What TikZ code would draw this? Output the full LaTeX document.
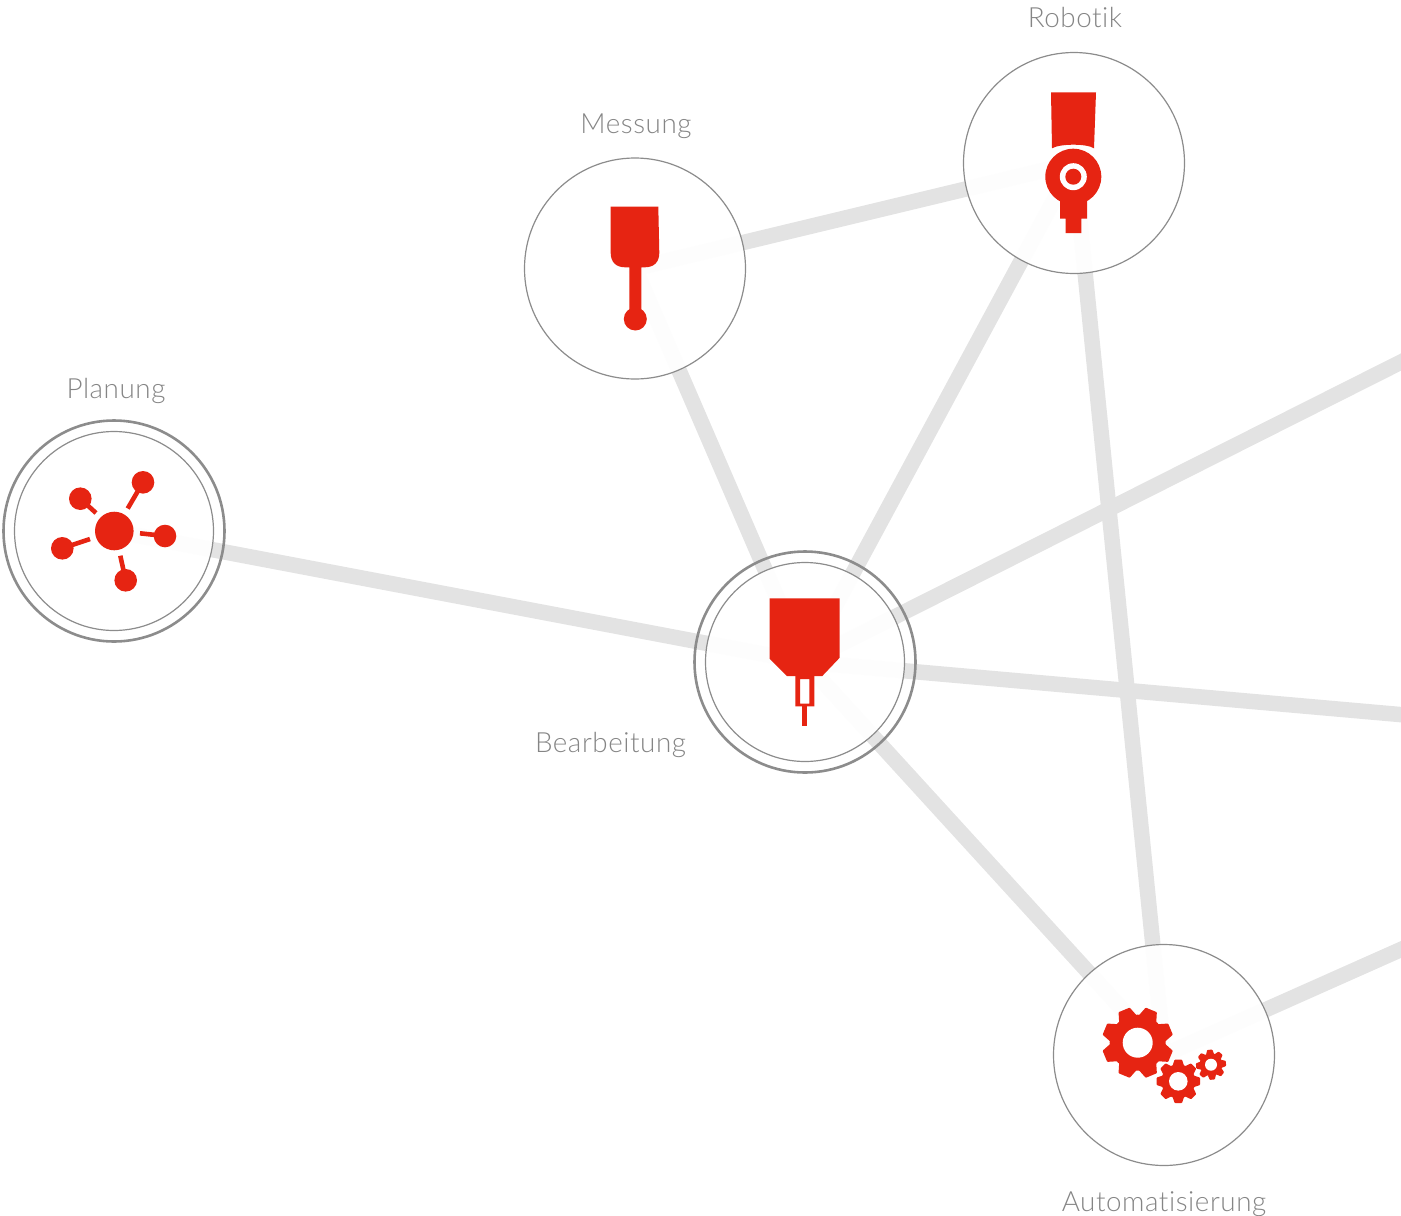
\documentclass[tikz,border=0pt]{standalone}
\usepackage{fontspec}
\setmainfont{Lato Light}[LetterSpace=2.0,Ligatures=NoCommon]
\usetikzlibrary{backgrounds}
\definecolor{iconred}{HTML}{E62412}
\definecolor{linkgrey}{HTML}{E3E3E3}
\definecolor{ringgrey}{HTML}{8C8C8C}
\definecolor{labelgrey}{HTML}{858585}
\tikzset{
  hub/.style={circle,draw=ringgrey,line width=1.2pt,fill=white,fill opacity=.95,minimum size=221pt,inner sep=0pt,outer sep=0pt},
  hubinner/.style={hub,minimum size=199pt},
  hubouter/.style={circle,draw=ringgrey,line width=2.6pt,minimum size=221pt,inner sep=0pt,outer sep=0pt},
  link/.style={linkgrey,line width=15.5pt},
  caption/.style={text=labelgrey,font=\fontsize{27.8}{32}\selectfont,inner sep=0pt},
  icon/.style={fill=iconred,draw=none},
  hole/.style={fill=white,draw=none},
  spoke/.style={draw=iconred,line width=4.6pt}
}
% #1 x, #2 y, #3 outer radius, #4 root radius, #5 hole radius, #6 phase
\newcommand{\cog}[6]{%
  \foreach \ang in {0,45,...,315}{%
    \fill[icon,shift={(#1,#2)},rotate=\ang+#6,rounded corners=.7pt]
      ({-0.27*#3},{-0.9*#4}) -- ({-0.17*#3},{-#3}) -- ({0.17*#3},{-#3}) -- ({0.27*#3},{-0.9*#4}) -- cycle;
  }
  \fill[icon] (#1,#2) circle[radius=#4];
  \fill[hole] (#1,#2) circle[radius=#5];
}
\begin{document}
\begin{tikzpicture}[x=1pt,y=-1pt]
\useasboundingbox (0,0) rectangle (1401,1216);
\clip (0,0) rectangle (1401,1216);
% nodes
\node[hubouter] (planungring) at (114,531) {};
\node[hubinner] (planung) at (114,531) {};
\node[hubouter] (bearbring) at (805,662) {};
\node[hubinner] (bearb) at (805,662) {};
\node[hub] (messung) at (635,268.5) {};
\node[hub] (robotik) at (1074,163) {};
\node[hub] (auto) at (1164,1055) {};
% free ends
\coordinate (outa) at (1411,357);
\coordinate (outb) at (1411,715.5);
\coordinate (outc) at (1411,945);
% connectors
\begin{scope}[on background layer]
\draw[link] (planung.center) -- (bearb.center);
\draw[link] (messung.center) -- (robotik.center);
\draw[link] (messung.center) -- (bearb.center);
\draw[link] (robotik.center) -- (bearb.center);
\draw[link] (robotik.center) -- (auto.center);
\draw[link] (bearb.center) -- (auto.center);
\draw[link] (bearb.center) -- (outa);
\draw[link] (bearb.center) -- (outb);
\draw[link] (auto.center) -- (outc);
\end{scope}
% labels
\node[caption] (lplanung) at (116,390.5) {Planung};
\node[caption] (lmessung) at (636,126.5) {Messung};
\node[caption] (lrobotik) at (1075,17) {Robotik};
\node[caption] (lbearb) at (610.5,745) {Bearbeitung};
\node[caption] (lauto) at (1164,1204) {Automatisierung};
% Planung icon
\draw[spoke] (143,482.3) -- (127.7,508.5);
\draw[spoke] (80.3,498.7) -- (96,513);
\draw[spoke] (62.3,548.3) -- (90,539);
\draw[spoke] (165,536) -- (140,533.3);
\draw[spoke] (125.7,580.3) -- (120.3,555.7);
\fill[icon] (114.3,531) circle[radius=19.3];
\fill[icon] (143,482.3) circle[radius=11.3];
\fill[icon] (80.3,498.7) circle[radius=11.3];
\fill[icon] (62.3,548.3) circle[radius=11.3];
\fill[icon] (165,536) circle[radius=11.3];
\fill[icon] (125.7,580.3) circle[radius=11.3];
% Bearbeitung icon
\fill[icon] (769.7,598.3) -- (839.7,598.3) -- (839.7,657.7) -- (822.3,676) -- (787,676) -- (769.7,658.7) -- cycle;
\fill[icon,even odd rule] (795.3,676) rectangle (814.3,706.3) (800,679) rectangle (809.3,703.7);
\fill[icon] (802.3,706) rectangle (806.7,726);
% Messung icon
\fill[icon] (610.7,206.7) -- (658.3,206.7) -- (659.3,253) .. controls (659.3,262) and (654,267.3) .. (645,267.3)
  -- (641.3,267.3) -- (641.3,312) -- (629.3,312) -- (629.3,267.3) -- (625,267.3)
  .. controls (616,267.3) and (610.7,262) .. (610.7,253) -- cycle;
\fill[icon] (635.3,319) circle[radius=11.5];
% Robotik icon
\fill[icon] (1051,92.3) -- (1096,92.3) -- (1094,148.3) .. controls (1087,143.5) and (1060,143.5) .. (1052,148.3) -- cycle;
\fill[icon] (1060,190) -- (1060,218.7) -- (1065.7,218.7) -- (1065.7,233) -- (1081.3,233) -- (1081.3,218.7) -- (1087,218.7) -- (1087,190) -- cycle;
\fill[icon] (1073.3,176.7) circle[radius=28];
\fill[hole] (1073.3,176.7) circle[radius=13.5];
\fill[icon] (1073.3,176.7) circle[radius=8];
% Automatisierung icon
\cog{1137.7}{1042.7}{35.5}{28}{15}{22.5}
\cog{1178.3}{1081.3}{21.7}{17}{9.3}{0}
\cog{1211}{1064.7}{15}{11.5}{6}{5}
\end{tikzpicture}
\end{document}
